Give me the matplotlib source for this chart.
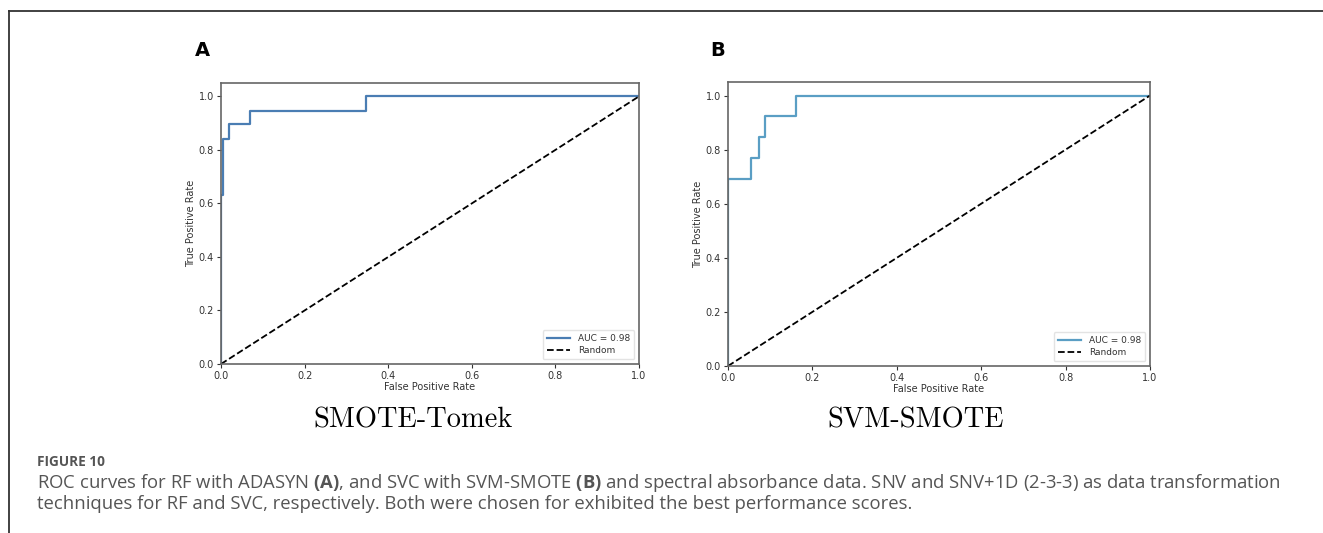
import matplotlib
matplotlib.use("Agg")
import matplotlib.pyplot as plt
from matplotlib.lines import Line2D

plt.rcParams["mathtext.fontset"] = "custom"
plt.rcParams["mathtext.bf"] = "Open Sans:bold"
plt.rcParams["mathtext.rm"] = "Open Sans"

# ---- data ----
fpr_a = [0.0, 0.0, 0.004, 0.004, 0.019, 0.019, 0.069, 0.069, 0.347, 0.347, 1.0]
tpr_a = [0.0, 0.632, 0.632, 0.842, 0.842, 0.895, 0.895, 0.947, 0.947, 1.0, 1.0]
fpr_b = [0.0, 0.0, 0.055, 0.055, 0.073, 0.073, 0.088, 0.088, 0.162, 0.162, 1.0]
tpr_b = [0.0, 0.692, 0.692, 0.769, 0.769, 0.846, 0.846, 0.923, 0.923, 1.0, 1.0]
auc_labels = ["AUC = 0.98", "AUC = 0.98"]
panel_letters = ["A", "B"]
panel_titles = ["SMOTE-Tomek", "SVM-SMOTE"]
ticks = [0.0, 0.2, 0.4, 0.6, 0.8, 1.0]
caption_head = "FIGURE 10"
caption_lines = [
    "ROC curves for RF with ADASYN $\\bf{(A)}$, and SVC with SVM-SMOTE $\\bf{(B)}$ and spectral absorbance data. SNV and SNV+1D (2-3-3) as data transformation",
    "techniques for RF and SVC, respectively. Both were chosen for exhibited the best performance scores.",
]

W, H = 1323, 533
fig = plt.figure(figsize=(W / 100, H / 100), dpi=100)
fig.patch.set_facecolor("white")

def rect(x0, y0, x1, y1):
    return [x0 / W, 1 - y1 / H, (x1 - x0) / W, (y1 - y0) / H]

axes_px = [(221, 83, 639, 364), (728, 82, 1150, 366)]
curves = [(fpr_a, tpr_a, "#4a7db3"), (fpr_b, tpr_b, "#5a9ec4")]

for i, (box, (fx, ty, col)) in enumerate(zip(axes_px, curves)):
    ax = fig.add_axes(rect(*box))
    ax.plot(fx, ty, color=col, lw=1.6, label=auc_labels[i])
    ax.plot([0, 1], [0, 1], "k--", lw=1.3, label="Random")
    ax.set_xlim(0, 1)
    ax.set_ylim(0, 1.05)
    ax.set_xticks(ticks)
    ax.set_yticks(ticks)
    ax.tick_params(labelsize=7, colors="#333333", length=3, width=0.8, pad=2)
    for s in ax.spines.values():
        s.set_color("#666666")
        s.set_linewidth(1.2)
    ax.set_xlabel("False Positive Rate", fontsize=7, color="#333333", labelpad=1)
    ax.set_ylabel("True Positive Rate", fontsize=7, color="#333333", labelpad=2)
    leg = ax.legend(loc="lower right", fontsize=6.5, frameon=True, handlelength=2.6,
                    borderpad=0.5, labelspacing=0.3)
    leg.get_frame().set_edgecolor("#dddddd")
    for t in leg.get_texts():
        t.set_color("#333333")

# panel letters
fig.text(195 / W, 1 - 50 / H, panel_letters[0], fontsize=14, fontweight="bold",
         va="center", ha="left", family="DejaVu Sans")
fig.text(710 / W, 1 - 50 / H, panel_letters[1], fontsize=14, fontweight="bold",
         va="center", ha="left", family="DejaVu Sans")

# sub titles
fig.text(413 / W, 1 - 420 / H, panel_titles[0], fontsize=20.5, family="cmr10",
         ha="center", va="center")
fig.text(916 / W, 1 - 420 / H, panel_titles[1], fontsize=20.5, family="cmr10",
         ha="center", va="center")

# caption
fig.text(37 / W, 1 - 462 / H, caption_head, fontsize=9.8, fontweight="bold",
         color="#555555", family="Open Sans", va="center", ha="left")
for k, line in enumerate(caption_lines):
    fig.text(37 / W, 1 - (483 + 21 * k) / H, line, fontsize=13.3, color="#555555",
             family="Open Sans", va="center", ha="left")

# page frame lines
fig.add_artist(Line2D([9 / W, 1.0], [1 - 10.5 / H, 1 - 10.5 / H], color="#333333", lw=1.3))
fig.add_artist(Line2D([9 / W, 9 / W], [0.0, 1 - 10.5 / H], color="#333333", lw=1.3))

fig.savefig("out.png", dpi=100, facecolor="white")
